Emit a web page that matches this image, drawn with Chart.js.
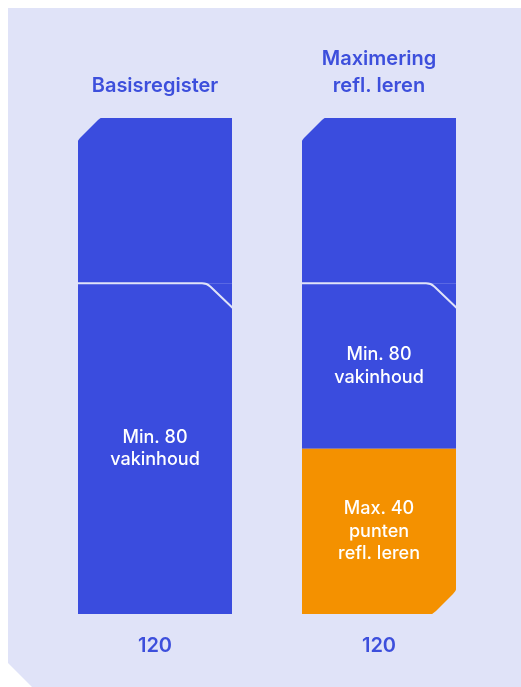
<!DOCTYPE html>
<html lang="nl">
<head>
<meta charset="UTF-8">
<title>Basisregister vs Maximering refl. leren</title>
<script src="https://cdn.jsdelivr.net/npm/chart.js"></script>
<style>
  html, body { margin: 0; padding: 0; background: #fff; }
  #wrap { width: 521px; height: 687px; }
</style>
</head>
<body>
<div id="wrap"><canvas id="chart" width="521" height="687"></canvas></div>
<script>
// categories (kolomtitels)
const categories = [['Basisregister'], ['Maximering', 'refl. leren']];
// segments, van onder naar boven gestapeld
const reflLeren = [0, 40];
const vakinhoud = [80, 40];
const bovenDeel = [40, 40];
// teksten in de segmenten
const reflLabels = [null, ['Max. 40', 'punten', 'refl. leren']];
const vakLabels = [['Min. 80', 'vakinhoud'], ['Min. 80', 'vakinhoud']];
const bovenLabels = [null, null];
// totalen onder de kolommen
const totals = categories.map((c, i) => reflLeren[i] + vakinhoud[i] + bovenDeel[i]);
const totalLabels = totals.map(t => String(t));

const BLUE = '#3a4cde';
const ORANGE = '#f49100';
const BG = '#e0e3f8';
const TEXT = '#3d4fdc';
const FONT = "'Inter', 'Open Sans', sans-serif";

// paneel met afgeschuinde hoek linksonder
const panelPlugin = {
    id: 'panel',
    beforeDraw(chart) {
        const ctx = chart.ctx;
        const w = chart.width, h = chart.height;
        ctx.save();
        ctx.fillStyle = BG;
        ctx.beginPath();
        ctx.moveTo(8, 8);
        ctx.lineTo(w, 8);
        ctx.lineTo(w, h);
        ctx.lineTo(32, h);
        ctx.lineTo(8, h - 24);
        ctx.closePath();
        ctx.fill();
        ctx.restore();
    }
};

// afschuiningen, scheidingslijn en teksten in de staven
const barDecor = {
    id: 'barDecor',
    afterDatasetsDraw(chart) {
        const ctx = chart.ctx;
        const nSets = chart.data.datasets.length;
        ctx.save();
        categories.forEach((c, i) => {
            // bovenste en onderste segment met waarde > 0 zoeken
            let topBar = null, bottomBar = null;
            for (let d = 0; d < nSets; d++) {
                if (chart.data.datasets[d].data[i] > 0) {
                    const el = chart.getDatasetMeta(d).data[i];
                    if (!bottomBar) bottomBar = el;
                    topBar = el;
                }
            }
            const x0 = topBar.x - topBar.width / 2;
            const x1 = topBar.x + topBar.width / 2;

            // schuine hoek linksboven
            const c1 = 25;
            ctx.fillStyle = BG;
            ctx.beginPath();
            ctx.moveTo(x0 - 1, topBar.y - 1);
            ctx.lineTo(x0 + c1, topBar.y - 1);
            ctx.quadraticCurveTo(x0 + c1 - 3, topBar.y, x0 + c1 - 5, topBar.y + 2);
            ctx.lineTo(x0 + 2, topBar.y + c1 - 5);
            ctx.quadraticCurveTo(x0, topBar.y + c1 - 3, x0 - 1, topBar.y + c1);
            ctx.closePath();
            ctx.fill();

            // schuine hoek rechtsonder (alleen bij oranje segment)
            if (chart.data.datasets[0].data[i] > 0) {
                const c2 = 27;
                const yb = bottomBar.base;
                ctx.beginPath();
                ctx.moveTo(x1 + 1, yb + 1);
                ctx.lineTo(x1 + 1, yb - c2);
                ctx.quadraticCurveTo(x1, yb - c2 + 4, x1 - 3, yb - c2 + 7);
                ctx.lineTo(x1 - c2 + 7, yb - 3);
                ctx.quadraticCurveTo(x1 - c2 + 4, yb, x1 - c2, yb + 1);
                ctx.closePath();
                ctx.fill();
            }

            // scheidingslijn onder het bovenste deel
            const yl = topBar.base;
            ctx.strokeStyle = BG;
            ctx.lineWidth = 2;
            ctx.lineJoin = 'round';
            ctx.beginPath();
            ctx.moveTo(x0, yl);
            ctx.lineTo(x1 - 30, yl);
            ctx.quadraticCurveTo(x1 - 25, yl, x1 - 22, yl + 3);
            ctx.lineTo(x1 + 1, yl + 25);
            ctx.stroke();
        });

        // teksten
        ctx.fillStyle = '#ffffff';
        ctx.font = '500 18px ' + FONT;
        ctx.textAlign = 'center';
        ctx.textBaseline = 'middle';
        chart.data.datasets.forEach((ds, d) => {
            chart.getDatasetMeta(d).data.forEach((el, i) => {
                const lines = ds.segLabels[i];
                if (!lines || !ds.data[i]) return;
                const cy = (el.y + el.base) / 2;
                const lh = 22.5;
                lines.forEach((t, k) => {
                    ctx.fillText(t, el.x, cy + (k - (lines.length - 1) / 2) * lh);
                });
            });
        });
        ctx.restore();
    }
};

new Chart(document.getElementById('chart'), {
    type: 'bar',
    data: {
        labels: categories,
        datasets: [
            { label: 'refl. leren', data: reflLeren, backgroundColor: ORANGE, segLabels: reflLabels },
            { label: 'vakinhoud', data: vakinhoud, backgroundColor: BLUE, segLabels: vakLabels },
            { label: 'boven', data: bovenDeel, backgroundColor: BLUE, segLabels: bovenLabels }
        ]
    },
    options: {
        responsive: false,
        animation: false,
        layout: { padding: { left: 43, right: 30, top: 0, bottom: 0 } },
        datasets: {
            bar: { categoryPercentage: 1, barPercentage: 0.6875, borderWidth: 0 }
        },
        plugins: { legend: { display: false }, tooltip: { enabled: false } },
        scales: {
            x: {
                position: 'top',
                stacked: true,
                grid: { display: false, drawTicks: false },
                border: { display: false },
                ticks: {
                    color: TEXT,
                    font: { family: FONT, size: 20, weight: '600', lineHeight: 1.35 },
                    padding: 19
                },
                afterFit(scale) { scale.height = 118; }
            },
            x2: {
                type: 'category',
                labels: totalLabels,
                position: 'bottom',
                grid: { display: false, drawTicks: false },
                border: { display: false },
                ticks: {
                    color: TEXT,
                    font: { family: FONT, size: 20, weight: '600' },
                    padding: 20
                },
                afterFit(scale) { scale.height = 73; }
            },
            y: {
                stacked: true,
                display: false,
                min: 0,
                max: 120
            }
        }
    },
    plugins: [panelPlugin, barDecor]
});
</script>
</body>
</html>
